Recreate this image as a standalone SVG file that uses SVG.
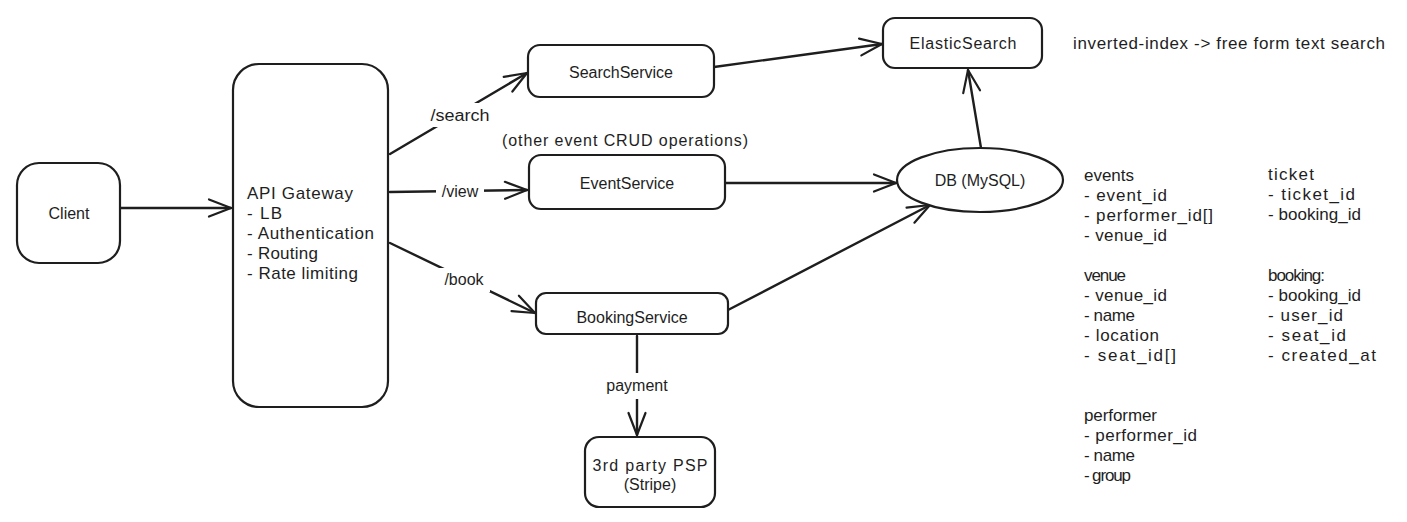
<svg xmlns="http://www.w3.org/2000/svg" width="1407" height="522" viewBox="0 0 1407 522">
<style>
.box{fill:#fff;stroke:#1e1e1e;stroke-width:2.2}
.t{font-family:"Liberation Sans",Arial,sans-serif;font-size:16px;fill:#1e1e1e}
.g{font-size:17px}
.c{text-anchor:middle;dominant-baseline:central}
.l{dominant-baseline:central}
.con{fill:none;stroke:#1e1e1e;stroke-width:2.4;stroke-linecap:round}
.bg{fill:#fff}
</style>
<defs>
<marker id="arr" viewBox="0 0 26 20" refX="24" refY="10" markerWidth="26" markerHeight="20" orient="auto" markerUnits="userSpaceOnUse">
<path d="M2,1.5 L24,10 L2,18.5" fill="none" stroke="#1e1e1e" stroke-width="2.2" stroke-linecap="round" stroke-linejoin="round"/>
</marker>
</defs>
<rect width="1407" height="522" fill="#fff"/>

<g id="connectors">
<path class="con" d="M120,208 L231,208" marker-end="url(#arr)"/>
<path class="con" d="M390,154 L527,73" marker-end="url(#arr)"/>
<path class="con" d="M390,192 L527,190" marker-end="url(#arr)"/>
<path class="con" d="M390,243 L535,313" marker-end="url(#arr)"/>
<path class="con" d="M637,336 L637,435" marker-end="url(#arr)"/>
<path class="con" d="M714,67 L882,44" marker-end="url(#arr)"/>
<path class="con" d="M725,183 L896,183" marker-end="url(#arr)"/>
<path class="con" d="M728,310 L930,205" marker-end="url(#arr)"/>
<path class="con" d="M981,148 L968,70" marker-end="url(#arr)"/>
<g id="labels">
<rect class="bg" x="426" y="103" width="68" height="24"/>
<text class="t c" x="460" y="115" textLength="59" lengthAdjust="spacingAndGlyphs">/search</text>
<rect class="bg" x="436" y="180" width="48" height="24"/>
<text class="t c" x="460" y="191">/view</text>
<rect class="bg" x="438" y="268" width="52" height="24"/>
<text class="t c" x="464" y="279">/book</text>
<rect class="bg" x="600" y="373" width="74" height="26"/>
<text class="t c" x="637" y="385">payment</text>
</g>
</g>

<g id="client">
<rect class="box" x="17" y="163" width="103" height="100" rx="22"/>
<text class="t c" x="69" y="213">Client</text>
</g>

<g id="api-gateway">
<rect class="box" x="233" y="64" width="155" height="343" rx="26"/>
<text class="t g l" x="247" y="193" textLength="106">API Gateway</text>
<text class="t g l" x="247" y="213" textLength="35">- LB</text>
<text class="t g l" x="247" y="233" textLength="127">- Authentication</text>
<text class="t g l" x="247" y="253" textLength="71">- Routing</text>
<text class="t g l" x="247" y="273" textLength="111">- Rate limiting</text>
</g>

<g id="search-service">
<rect class="box" x="528" y="45" width="186" height="52" rx="12"/>
<text class="t c" x="621" y="72">SearchService</text>
</g>

<text class="t c" x="625" y="140" textLength="246">(other event CRUD operations)</text>

<g id="event-service">
<rect class="box" x="529" y="155" width="196" height="54" rx="12"/>
<text class="t c" x="627" y="183">EventService</text>
</g>

<g id="booking-service">
<rect class="box" x="536" y="293" width="192" height="41" rx="10"/>
<text class="t c" x="632" y="317">BookingService</text>
</g>

<g id="psp">
<rect class="box" x="585" y="437" width="130" height="70" rx="14"/>
<text class="t c" x="650" y="465" textLength="115">3rd party PSP</text>
<text class="t c" x="650" y="484">(Stripe)</text>
</g>

<g id="elasticsearch">
<rect class="box" x="883" y="18" width="159" height="50" rx="12"/>
<text class="t c" x="963" y="43" textLength="107">ElasticSearch</text>
</g>

<g id="db">
<ellipse class="box" cx="980" cy="180" rx="83" ry="32"/>
<text class="t c" x="980" y="180">DB (MySQL)</text>
</g>

<g id="notes">
<text class="t g l" x="1073" y="43" textLength="312">inverted-index -&gt; free form text search</text>
<g class="g">
<text class="t g l" x="1084" y="175" textLength="50">events</text>
<text class="t g l" x="1084" y="195" textLength="83">- event_id</text>
<text class="t g l" x="1084" y="215" textLength="129">- performer_id[]</text>
<text class="t g l" x="1084" y="235" textLength="83">- venue_id</text>
<text class="t g l" x="1268" y="174" textLength="46">ticket</text>
<text class="t g l" x="1268" y="194" textLength="87">- ticket_id</text>
<text class="t g l" x="1268" y="214" textLength="93">- booking_id</text>
<text class="t g l" x="1084" y="275" textLength="42">venue</text>
<text class="t g l" x="1084" y="295" textLength="83">- venue_id</text>
<text class="t g l" x="1084" y="315" textLength="51">- name</text>
<text class="t g l" x="1084" y="335" textLength="75">- location</text>
<text class="t g l" x="1084" y="355" textLength="92">- seat_id[]</text>
<text class="t g l" x="1268" y="275" textLength="57">booking:</text>
<text class="t g l" x="1268" y="295" textLength="93">- booking_id</text>
<text class="t g l" x="1268" y="315" textLength="75">- user_id</text>
<text class="t g l" x="1268" y="335" textLength="78">- seat_id</text>
<text class="t g l" x="1268" y="355" textLength="108">- created_at</text>
<text class="t g l" x="1084" y="415" textLength="73">performer</text>
<text class="t g l" x="1084" y="435" textLength="113">- performer_id</text>
<text class="t g l" x="1084" y="455" textLength="51">- name</text>
<text class="t g l" x="1084" y="475" textLength="47">- group</text>
</g>
</g>
</svg>
